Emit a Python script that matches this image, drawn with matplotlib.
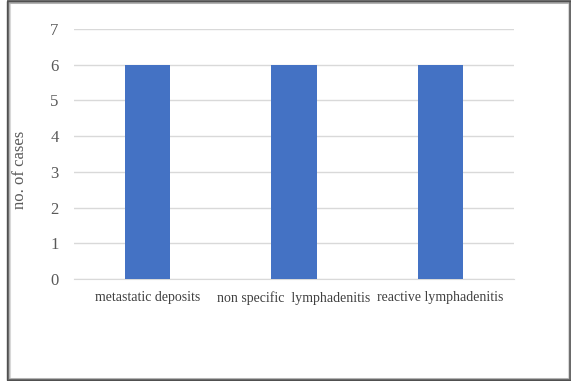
import matplotlib
matplotlib.use("Agg")
import matplotlib.pyplot as plt
from matplotlib.patches import Rectangle

# Data
categories = ["metastatic deposits", "non specific  lymphadenitis", "reactive lymphadenitis"]
cases = [6, 6, 6]
y_ticks = [0, 1, 2, 3, 4, 5, 6, 7]

W, H = 571, 381
fig = plt.figure(figsize=(W / 100, H / 100), dpi=100)
fig.patch.set_facecolor("white")

# framed border with soft shadow
for i, shade in enumerate(["#d8d8d8", "#a8a8a8", "#707070", "#505050"]):
    fig.patches.append(Rectangle((9 - i * 0.6, 2 - i * 0.4), 560 + i * 1.2, 377 + i * 0.8,
                                 transform=None, fill=False, edgecolor=shade,
                                 linewidth=2.2 - i * 0.4, zorder=0))

ax = fig.add_axes([74 / W, 102 / H, (514 - 74) / W, (352 - 102) / H])
x = range(len(categories))
ax.bar(x, cases, width=0.31, color="#4472c4", zorder=3)

ax.set_xlim(-0.5, len(categories) - 0.5)
ax.set_ylim(0, 7)
ax.set_yticks(y_ticks)
ax.yaxis.grid(True, color="#d9d9d9", linewidth=1)
ax.set_axisbelow(True)
for s in ["top", "right", "left"]:
    ax.spines[s].set_visible(False)
ax.spines["bottom"].set_color("#d9d9d9")
ax.tick_params(length=0)
ax.set_xticks(list(x))
ax.set_xticklabels(categories, family="Liberation Serif", fontsize=10, color="#404040")
for lbl in ax.get_yticklabels():
    lbl.set_family("Liberation Serif")
    lbl.set_fontsize(12)
    lbl.set_color("#595959")
ax.tick_params(axis="y", pad=11)
ax.tick_params(axis="x", pad=9)

# axis title placed in figure pixels
fig.text(20 / W, 1 - 170 / H, "no. of cases", family="Liberation Serif", fontsize=12,
         color="#595959", rotation=90, ha="center", va="center")

fig.savefig("out.png", dpi=100)
